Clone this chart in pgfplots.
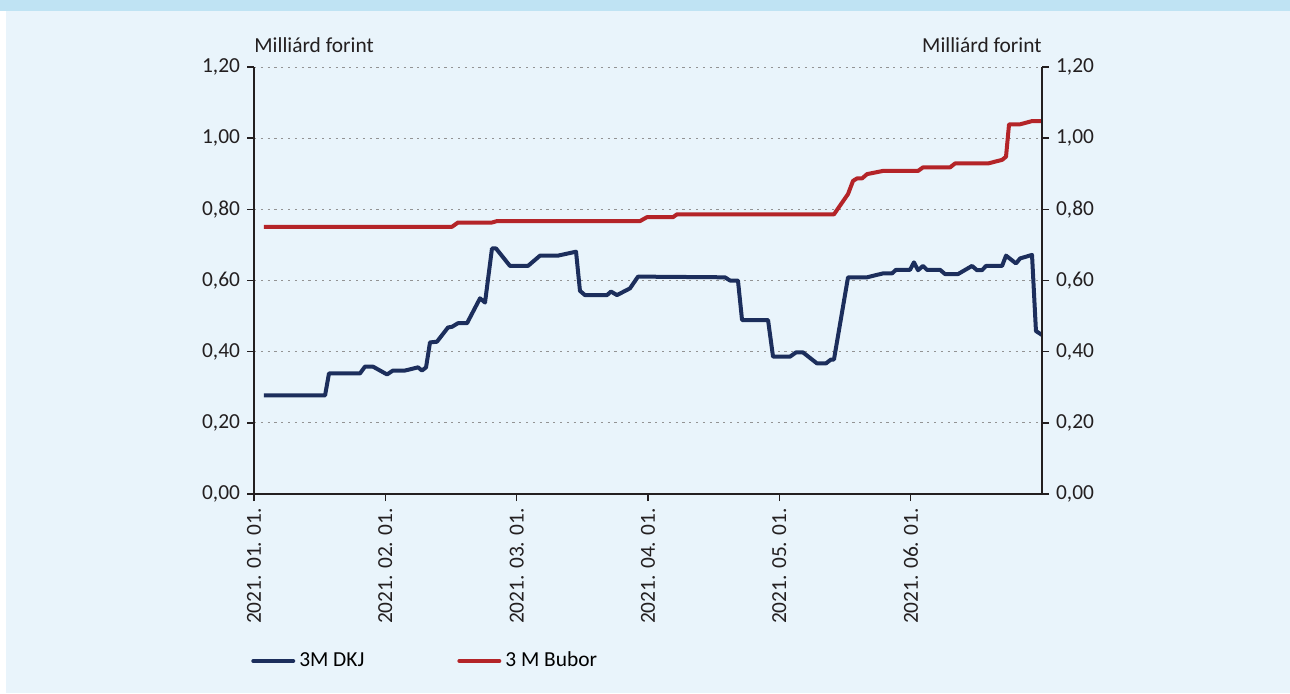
\documentclass[border=0pt]{standalone}
\usepackage{fontspec}
\setmainfont{Carlito}
\usepackage{pgfplots}
\pgfplotsset{compat=1.18}
\definecolor{bgbody}{HTML}{E9F4FB}
\definecolor{bgband}{HTML}{BFE3F3}
\definecolor{dkjblue}{HTML}{1C2E5C}
\definecolor{buborred}{HTML}{B42428}
\definecolor{axisdark}{HTML}{231F20}

% 1 px of the reference = 0.5pt
\pgfplotsset{
  mnb/.style={
    scale only axis, width=394pt, height=213.5pt,
    at={(127pt,-247pt)}, anchor=south west,
    xmin=0, xmax=6, ymin=0, ymax=1.2,
    ytick={0,0.2,0.4,0.6,0.8,1.0,1.2},
    yticklabel={\pgfmathprintnumber[fixed,fixed zerofill,precision=2,use comma]{\tick}},
    /pgf/number format/assume math mode=true,
    tick align=outside, major tick length=3.5pt,
    axis line style={axisdark, line width=0.8pt},
    tick style={axisdark, line width=0.8pt},
    tick label style={text=axisdark},
  }
}

\begin{document}
\begin{tikzpicture}[font=\fontsize{10.7}{13}\selectfont]
  \path (0,0) rectangle (645pt,-346.5pt);
  \fill[bgband] (0,0) rectangle (645pt,-5.5pt);
  \fill[bgbody] (3pt,-5.5pt) rectangle (645pt,-346.5pt);

  \begin{axis}[mnb, name=main,
      axis x line*=bottom, axis y line*=left,
      xtick={0,1,2,3,4,5},
      xticklabels={2021. 01. 01.,2021. 02. 01.,2021. 03. 01.,2021. 04. 01.,2021. 05. 01.,2021. 06. 01.},
      xticklabel style={rotate=90, anchor=east},
      ymajorgrids, grid style={gray!85, line width=0.5pt, dash pattern=on 1.1pt off 2.3pt},
      legend columns=2,
      legend style={draw=none, fill=none, at={(-0.004,-0.391)}, anchor=west, inner sep=0pt,
        /tikz/every even column/.append style={column sep=44.5pt}},
      legend image code/.code={\draw[#1, line cap=round] (0pt,0pt) -- (20pt,0pt);},
    ]
    \addplot[dkjblue, line width=2pt, line join=round] coordinates {
      (0.076,0.277) (0.541,0.277) (0.571,0.339) (0.807,0.339) (0.845,0.358)
      (0.906,0.358) (1.013,0.336) (1.058,0.347) (1.150,0.347) (1.249,0.356)
      (1.279,0.347) (1.310,0.356) (1.340,0.426) (1.393,0.428) (1.477,0.468)
      (1.508,0.470) (1.553,0.480) (1.622,0.480) (1.721,0.550) (1.759,0.538)
      (1.812,0.690) (1.843,0.690) (1.949,0.641) (2.086,0.641) (2.178,0.670)
      (2.315,0.670) (2.452,0.681) (2.482,0.571) (2.520,0.559) (2.688,0.559)
      (2.718,0.569) (2.764,0.559) (2.863,0.578) (2.924,0.611) (3.586,0.609)
      (3.624,0.600) (3.685,0.600) (3.716,0.489) (3.914,0.489) (3.952,0.386)
      (4.081,0.386) (4.127,0.398) (4.180,0.398) (4.287,0.367) (4.355,0.367)
      (4.393,0.378) (4.416,0.378) (4.523,0.609) (4.668,0.609) (4.789,0.620)
      (4.858,0.620) (4.888,0.630) (4.995,0.630) (5.025,0.651) (5.056,0.629)
      (5.094,0.641) (5.124,0.630) (5.224,0.630) (5.262,0.618) (5.360,0.618)
      (5.467,0.641) (5.505,0.629) (5.543,0.629) (5.574,0.641) (5.696,0.641)
      (5.726,0.670) (5.802,0.648) (5.833,0.662) (5.924,0.672) (5.954,0.458)
      (6.000,0.447)
    };
    \addlegendentry{3M DKJ}
    \addplot[buborred, line width=2pt, line join=round] coordinates {
      (0.076,0.751) (1.508,0.751) (1.553,0.763) (1.812,0.763) (1.850,0.767)
      (2.939,0.767) (2.992,0.778) (3.190,0.778) (3.221,0.786) (4.416,0.786)
      (4.523,0.843) (4.561,0.880) (4.592,0.887) (4.630,0.887) (4.668,0.899)
      (4.789,0.908) (5.056,0.908) (5.094,0.918) (5.300,0.918) (5.338,0.929)
      (5.589,0.929) (5.696,0.939) (5.726,0.948) (5.749,1.039) (5.833,1.039)
      (5.924,1.048) (6.000,1.048)
    };
    \addlegendentry{3 M Bubor}
  \end{axis}

  \begin{axis}[mnb,
      axis x line=none, axis y line*=right,
    ]
  \end{axis}

  \node[anchor=base west, text=axisdark, inner sep=0pt] at ([yshift=7.5pt]main.north west) {Milliárd forint};
  \node[anchor=base east, text=axisdark, inner sep=0pt] at ([yshift=7.5pt]main.north east) {Milliárd forint};
\end{tikzpicture}
\end{document}
